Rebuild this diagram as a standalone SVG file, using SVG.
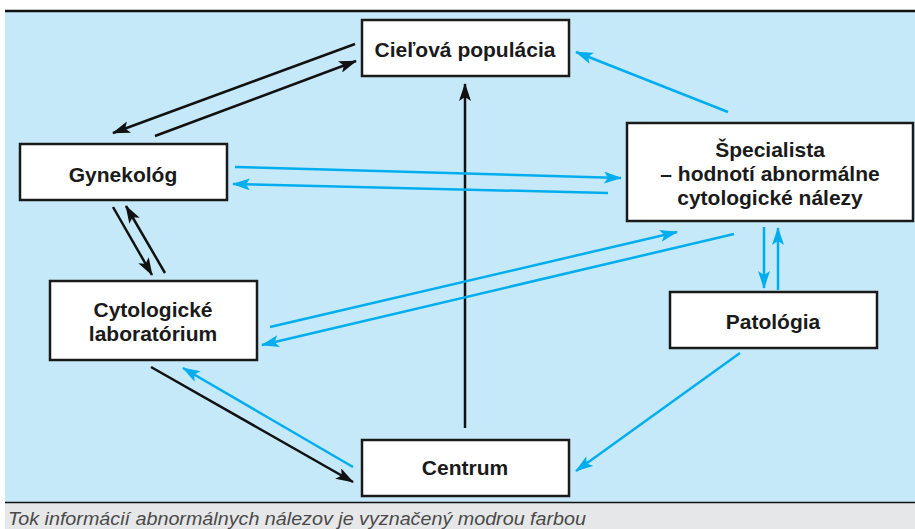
<svg xmlns="http://www.w3.org/2000/svg" width="915" height="529" viewBox="0 0 915 529">
<defs>
<style>
.box{fill:#fff;stroke:#1a1a1a;stroke-width:2.5}
.lbl{font-family:"Liberation Sans",Arial,sans-serif;font-weight:bold;font-size:21px;fill:#1a1a1a;text-anchor:middle}
.blk{stroke:#111;stroke-width:2.5;fill:none;marker-end:url(#ab)}
.blu{stroke:#00aeef;stroke-width:2.5;fill:none;marker-end:url(#au)}
</style>
<marker id="ab" markerUnits="userSpaceOnUse" viewBox="0 0 18 12" markerWidth="18" markerHeight="12" refX="17" refY="6" orient="auto">
<path d="M0,0 L18,6 L0,12 L4,6 z" fill="#111"/>
</marker>
<marker id="au" markerUnits="userSpaceOnUse" viewBox="0 0 18 12" markerWidth="18" markerHeight="12" refX="17" refY="6" orient="auto">
<path d="M0,0 L18,6 L0,12 L4,6 z" fill="#00aeef"/>
</marker>
</defs>
<rect x="0" y="0" width="915" height="529" fill="#fff"/>
<rect x="5" y="11" width="910" height="491" fill="#c6e9f9"/>
<rect x="5" y="503" width="910" height="26" fill="#e6e7e8"/>
<line x1="5" y1="11" x2="915" y2="11" stroke="#111" stroke-width="2.5"/>
<line x1="5" y1="502.5" x2="915" y2="502.5" stroke="#111" stroke-width="1.5"/>
<text x="8" y="525" font-family="Liberation Sans,Arial,sans-serif" font-style="italic" font-size="19" fill="#4a4a4a" textLength="578" lengthAdjust="spacingAndGlyphs">Tok informácií abnormálnych nálezov je vyznačený modrou farbou</text>

<g id="connectors">
<path class="blk" d="M355,44 L113,133"/>
<path class="blk" d="M155,136 L356,61"/>
<path class="blk" d="M113,207 L152,275"/>
<path class="blk" d="M165,273 L126,206"/>
<path class="blk" d="M151,367 L353,482"/>
<path class="blk" d="M465,428 L465,84"/>
<path class="blu" d="M728,112 L576,52"/>
<path class="blu" d="M235,167 L621,178"/>
<path class="blu" d="M608,193 L233,184"/>
<path class="blu" d="M270,327 L677,232"/>
<path class="blu" d="M734,234 L262,345"/>
<path class="blu" d="M764,227 L764,288"/>
<path class="blu" d="M778,290 L778,228"/>
<path class="blu" d="M740,353 L576,471"/>
<path class="blu" d="M353,467 L183,368"/>
</g>

<g id="cielova">
<rect class="box" x="362" y="20" width="207" height="56"/>
<text class="lbl" x="465" y="57">Cieľová populácia</text>
</g>
<g id="gynekolog">
<rect class="box" x="20" y="144" width="207" height="56"/>
<text class="lbl" x="123" y="182">Gynekológ</text>
</g>
<g id="cytologicke">
<rect class="box" x="50" y="281" width="207" height="79"/>
<text class="lbl" x="153" y="317">Cytologické</text>
<text class="lbl" x="153" y="341">laboratórium</text>
</g>
<g id="specialista">
<rect class="box" x="627" y="123" width="286" height="98"/>
<text class="lbl" x="770" y="157">Špecialista</text>
<text class="lbl" x="770" y="181">– hodnotí abnormálne</text>
<text class="lbl" x="770" y="205">cytologické nálezy</text>
</g>
<g id="patologia">
<rect class="box" x="670" y="292" width="207" height="56"/>
<text class="lbl" x="773" y="329">Patológia</text>
</g>
<g id="centrum">
<rect class="box" x="362" y="440" width="207" height="56"/>
<text class="lbl" x="465" y="475">Centrum</text>
</g>
</svg>
